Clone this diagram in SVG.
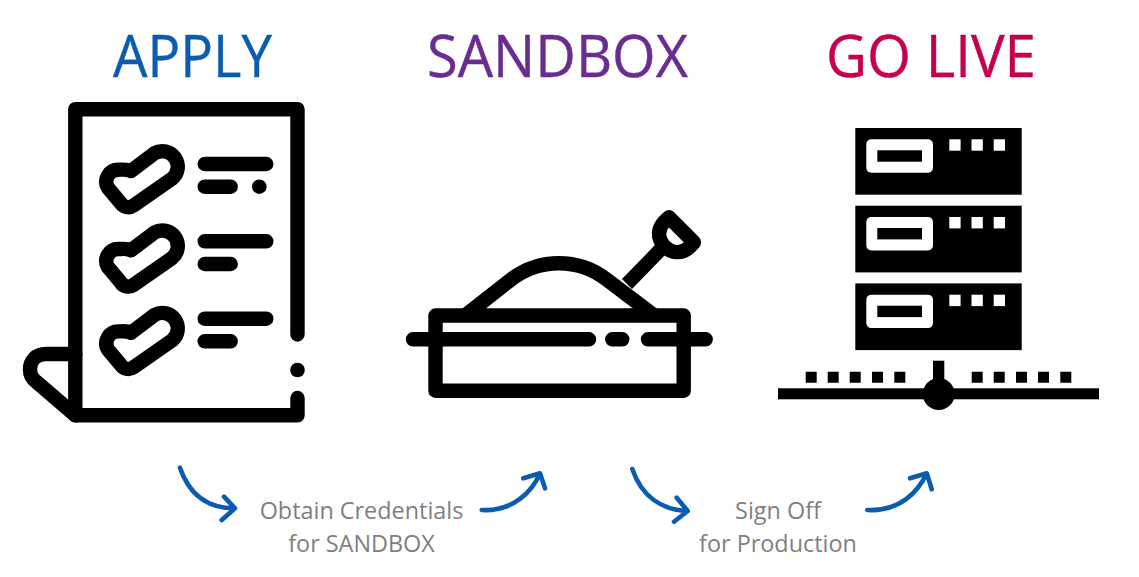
<svg xmlns="http://www.w3.org/2000/svg" xmlns:xlink="http://www.w3.org/1999/xlink" width="1139" height="577" viewBox="0 0 1139 577">
<style>
.ln{fill:none;stroke:#000;stroke-width:14.4;stroke-linecap:round;stroke-linejoin:round}
.bk{fill:#000}
.lt{fill:#fff}
.ttl{font-family:"Open Sans","Noto Sans",sans-serif;font-size:58px;text-anchor:middle;stroke-width:.4px}
.lbl{font-family:"Open Sans","Noto Sans",sans-serif;font-size:23.4px;fill:#7f7f7f;text-anchor:middle}
.arr{fill:none;stroke:#0a5cb0;stroke-width:4.6;stroke-linecap:round;stroke-linejoin:round}
</style>
<defs>
<path id="check" class="ln" d="M131 171L154.500 153.300A15.500 15.500 0 0 1 172.100 178.700L133.400 205.700A9 9 0 0 1 120.600 202.900L108 187.900A12 12 0 0 1 118.300 169.700C123 169.700 127 169 131 171Z"/>
<g id="rack">
<rect class="bk" x="855.300" y="128" width="166.400" height="66.700"/>
<rect class="lt" x="866.300" y="139.300" width="66.700" height="33.400" rx="5"/>
<rect class="bk" x="877.300" y="150.300" width="44.700" height="11.400"/>
<rect class="lt" x="949.300" y="139.300" width="11.300" height="11.400"/>
<rect class="lt" x="971.500" y="139.300" width="11.300" height="11.400"/>
<rect class="lt" x="993.700" y="139.300" width="11.300" height="11.400"/>
</g>
</defs>
<rect width="1139" height="577" fill="#fff"/>
<g id="apply">
<text class="ttl" x="192.500" y="77.300" fill="#0a5cb0" stroke="#0a5cb0" textLength="159" lengthAdjust="spacingAndGlyphs">APPLY</text>
<path class="ln" d="M297.500 334.500V109.200H75.300V415.300H297.500V398"/>
<path class="ln" d="M75.300 354H46C36 354 30 361 30 369.500C30 374 32 378.500 36 381.500L75.300 415.300"/>
<circle class="bk" cx="297.500" cy="370" r="7.300"/>
<use xlink:href="#check" href="#check"/>
<use xlink:href="#check" href="#check" y="79.300"/>
<use xlink:href="#check" href="#check" y="161.700"/>
<path class="ln" d="M204.700 164H266.300M204.700 186.700H230.700M204.700 241.300H266.300M204.700 264H230.700M204.700 318.700H266.300M204.700 341.300H230.700"/>
<circle class="bk" cx="259.300" cy="186.700" r="7.300"/>
</g>
<g id="sandbox">
<text class="ttl" x="557.500" y="77.300" fill="#6b2c91" stroke="#6b2c91" textLength="261" lengthAdjust="spacingAndGlyphs">SANDBOX</text>
<path fill="none" stroke="#000" stroke-width="14.400" d="M465.800 315L511.700 279C540 258 578 258 606 279L653.500 315"/>
<path fill="none" stroke="#000" stroke-width="14" d="M627 284L660 250"/>
<path class="ln" d="M669 217.300L694 242.300L690 246.700C681.700 255 670 253.300 663.300 245C656.700 236.700 658.300 228.300 664.300 221.700Z"/>
<rect class="ln" x="435.500" y="315.500" width="248.200" height="75.200"/>
<path class="ln" d="M413 339.300H589M612.300 339.300H622.300M648 339.300H705.700"/>
</g>
<g id="golive">
<text class="ttl" x="931" y="77.300" fill="#c5004f" stroke="#c5004f" textLength="210" lengthAdjust="spacingAndGlyphs">GO LIVE</text>
<use xlink:href="#rack" href="#rack"/>
<use xlink:href="#rack" href="#rack" y="77.700"/>
<use xlink:href="#rack" href="#rack" y="155.400"/>
<rect class="bk" x="778" y="388.300" width="321" height="11"/>
<circle class="bk" cx="938.700" cy="394" r="16"/>
<rect class="bk" x="933" y="360.700" width="11.300" height="25"/>
<path class="bk" d="M805.700 371.700h11v11h-11zM827.700 371.700h11v11h-11zM849.700 371.700h11v11h-11zM872 371.700h11v11h-11zM894.300 371.700h11v11h-11zM971.700 371.700h11v11h-11zM993.700 371.700h11v11h-11zM1016 371.700h11v11h-11zM1038 371.700h11v11h-11zM1060.300 371.700h11v11h-11z"/>
</g>
<g id="connectors">
<path class="arr" d="M180 467.700C190 497 210 508.300 235 508.300M224 496.700L235 508.300L221.700 520"/>
<path class="arr" d="M481.700 510C513 511.700 532 491.700 540 473.300M523.300 478.300L540 473.300L545 488.300"/>
<path class="arr" d="M632.300 469C641.700 496.700 661.700 510 687.700 511M676.700 497.700L687.700 511L674 521.700"/>
<path class="arr" d="M867.300 510C900 511.700 918.300 491.700 926.700 473.300M910 478.300L926.700 473.300L931.700 489.300"/>
</g>
<g id="label-credentials">
<text class="lbl" x="361.500" y="519">Obtain Credentials</text>
<text class="lbl" x="361.500" y="552">for SANDBOX</text>
</g>
<g id="label-signoff">
<text class="lbl" x="778" y="519">Sign Off</text>
<text class="lbl" x="778" y="552">for Production</text>
</g>
</svg>
